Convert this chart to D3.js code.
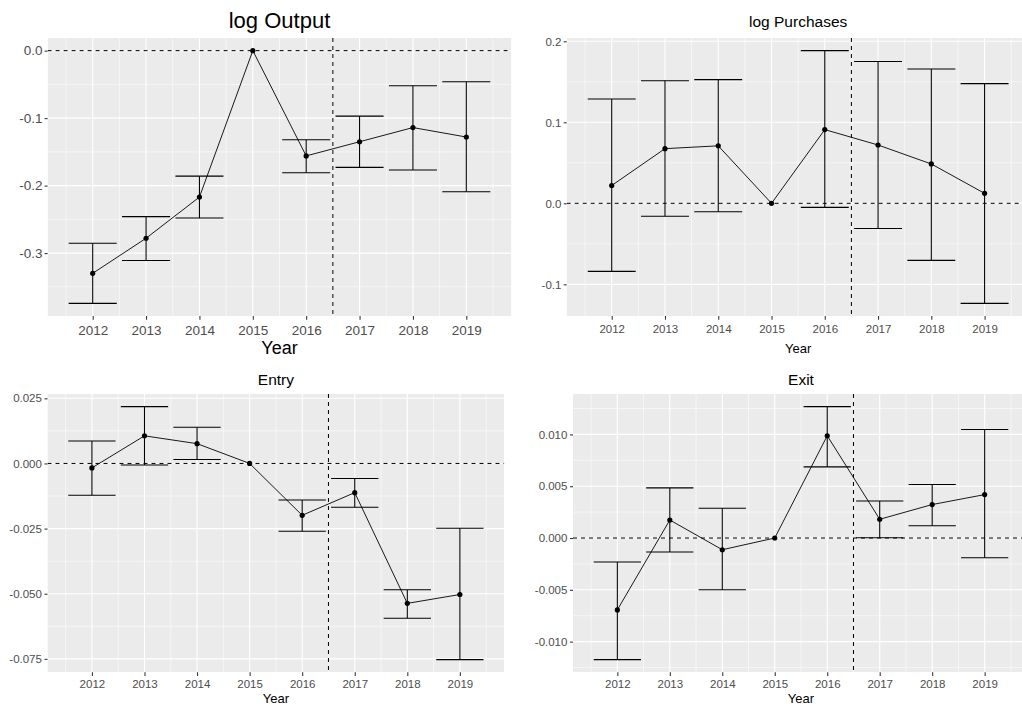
<!DOCTYPE html>
<html>
<head>
<meta charset="utf-8">
<script src="https://cdn.jsdelivr.net/npm/d3@7"></script>
<style>
  body { margin: 0; background: #fff; }
  svg { display: block; font-family: "Liberation Sans", Arial, sans-serif; }
</style>
</head>
<body>
<div id="chart"></div>
<script>
// years on the x axis, cutoff for the dashed vertical line
const years = [2012, 2013, 2014, 2015, 2016, 2017, 2018, 2019];
const cutoff = 2016.5;

// log Output (2015 is the reference year: no interval)
const outputEst = [-0.330, -0.278, -0.217, 0, -0.156, -0.135, -0.114, -0.128];
const outputLo  = [-0.3745, -0.311, -0.248, null, -0.181, -0.173, -0.177, -0.209];
const outputHi  = [-0.2855, -0.246, -0.186, null, -0.132, -0.097, -0.052, -0.046];
const outputTicks = [0, -0.1, -0.2, -0.3];
const outputLabels = ["0.0", "-0.1", "-0.2", "-0.3"];

// log Purchases
const purchEst = [0.022, 0.0675, 0.071, 0, 0.091, 0.072, 0.0486, 0.0123];
const purchLo  = [-0.084, -0.016, -0.0103, null, -0.005, -0.031, -0.0704, -0.1235];
const purchHi  = [0.1288, 0.1514, 0.1527, null, 0.1885, 0.175, 0.1658, 0.1478];
const purchTicks = [0.2, 0.1, 0, -0.1];
const purchLabels = ["0.2", "0.1", "0.0", "-0.1"];

// Entry
const entryEst = [-0.0017, 0.0106, 0.0076, 0, -0.0199, -0.0112, -0.0537, -0.0503];
const entryLo  = [-0.0122, -0.0006, 0.0015, null, -0.026, -0.0168, -0.0594, -0.0753];
const entryHi  = [0.0086, 0.0218, 0.0139, null, -0.014, -0.0058, -0.0485, -0.0249];
const entryTicks = [0.025, 0, -0.025, -0.05, -0.075];
const entryLabels = ["0.025", "0.000", "-0.025", "-0.050", "-0.075"];

// Exit
const exitEst = [-0.00694, 0.00174, -0.00113, 0, 0.00987, 0.00181, 0.00323, 0.00419];
const exitLo  = [-0.01174, -0.00135, -0.005, null, 0.00687, 0.00003, 0.00119, -0.0019];
const exitHi  = [-0.00232, 0.00484, 0.00287, null, 0.01268, 0.00358, 0.00516, 0.01048];
const exitTicks = [0.01, 0.005, 0, -0.005, -0.01];
const exitLabels = ["0.010", "0.005", "0.000", "-0.005", "-0.010"];

const W = 1022, H = 711;

const svg = d3.select("#chart").append("svg")
    .attr("width", W)
    .attr("height", H);

// panel boxes + text sizes (layout only)
const panels = [
  {title: "log Output", est: outputEst, lo: outputLo, hi: outputHi, ticks: outputTicks, labels: outputLabels,
   box: {l: 47.6, r: 511.4, t: 38, b: 316}, titleSize: 22, titleY: 27.5, tickSize: 13.5, xlabSize: 18, xlabY: 353.5, tickPad: 5.3, ylabGap: 5},
  {title: "log Purchases", est: purchEst, lo: purchLo, hi: purchHi, ticks: purchTicks, labels: purchLabels,
   box: {l: 566.7, r: 1029.6, t: 38, b: 316}, titleSize: 15.5, titleY: 27.3, tickSize: 11.5, xlabSize: 13, xlabY: 353.3, tickPad: 5.3, ylabGap: 5.3},
  {title: "Entry", est: entryEst, lo: entryLo, hi: entryHi, ticks: entryTicks, labels: entryLabels,
   box: {l: 47.5, r: 504.3, t: 394, b: 672.3}, titleSize: 15.5, titleY: 385, tickSize: 11.5, xlabSize: 13, xlabY: 703.3, tickPad: 4, ylabGap: 5.6},
  {title: "Exit", est: exitEst, lo: exitLo, hi: exitHi, ticks: exitTicks, labels: exitLabels,
   box: {l: 573, r: 1029, t: 394, b: 672.3}, titleSize: 15.5, titleY: 385, tickSize: 11.5, xlabSize: 13, xlabY: 703.3, tickPad: 4, ylabGap: 5.6}
];

function expand(lo, hi) {
  const pad = (hi - lo) * 0.05;
  return [lo - pad, hi + pad];
}

panels.forEach((p, pi) => {
  const rows = years.map((y, i) => ({year: y, est: p.est[i], lo: p.lo[i], hi: p.hi[i]}));
  const b = p.box;

  // x: continuous, errorbar width 0.9 then 5% expansion
  const x = d3.scaleLinear()
      .domain(expand(d3.min(years) - 0.45, d3.max(years) + 0.45))
      .range([b.l, b.r]);
  const allY = p.est.concat(p.lo, p.hi);
  const y = d3.scaleLinear()
      .domain(expand(d3.min(allY), d3.max(allY)))
      .range([b.b, b.t]);

  const clipId = "clip" + pi;
  svg.append("clipPath").attr("id", clipId)
    .append("rect")
      .attr("x", b.l).attr("y", b.t)
      .attr("width", b.r - b.l).attr("height", b.b - b.t);

  const g = svg.append("g").attr("clip-path", `url(#${clipId})`);

  g.append("rect")
      .attr("x", b.l).attr("y", b.t)
      .attr("width", b.r - b.l).attr("height", b.b - b.t)
      .attr("fill", "#EBEBEB");

  // minor grid
  const step = p.ticks[0] - p.ticks[1];
  const yMinor = d3.range(p.ticks.length + 1).map(i => p.ticks[0] + step / 2 - i * step);
  const xMinor = d3.range(years.length + 1).map(i => years[0] - 0.5 + i);

  g.selectAll(".ymin").data(yMinor).join("line")
      .attr("x1", b.l).attr("x2", b.r)
      .attr("y1", d => y(d)).attr("y2", d => y(d))
      .attr("stroke", "#fff").attr("stroke-width", 0.55);
  g.selectAll(".xmin").data(xMinor).join("line")
      .attr("y1", b.t).attr("y2", b.b)
      .attr("x1", d => x(d)).attr("x2", d => x(d))
      .attr("stroke", "#fff").attr("stroke-width", 0.55);

  // major grid
  g.selectAll(".ymaj").data(p.ticks).join("line")
      .attr("x1", b.l).attr("x2", b.r)
      .attr("y1", d => y(d)).attr("y2", d => y(d))
      .attr("stroke", "#fff").attr("stroke-width", 1.1);
  g.selectAll(".xmaj").data(years).join("line")
      .attr("y1", b.t).attr("y2", b.b)
      .attr("x1", d => x(d)).attr("x2", d => x(d))
      .attr("stroke", "#fff").attr("stroke-width", 1.1);

  // dashed reference lines
  g.append("line")
      .attr("x1", b.l).attr("x2", b.r)
      .attr("y1", y(0)).attr("y2", y(0))
      .attr("stroke", "#000").attr("stroke-width", 1)
      .attr("stroke-dasharray", "4,4");
  g.append("line")
      .attr("x1", x(cutoff)).attr("x2", x(cutoff))
      .attr("y1", b.t).attr("y2", b.b)
      .attr("stroke", "#000").attr("stroke-width", 1)
      .attr("stroke-dasharray", "4,4");

  // error bars (skip the reference year with no interval)
  const eb = g.selectAll(".eb").data(rows.filter(d => d.lo != null)).join("g");
  eb.append("line")
      .attr("x1", d => x(d.year)).attr("x2", d => x(d.year))
      .attr("y1", d => y(d.lo)).attr("y2", d => y(d.hi))
      .attr("stroke", "#000").attr("stroke-width", 1.07);
  eb.append("line")
      .attr("x1", d => x(d.year - 0.45)).attr("x2", d => x(d.year + 0.45))
      .attr("y1", d => y(d.lo)).attr("y2", d => y(d.lo))
      .attr("stroke", "#000").attr("stroke-width", 1.07);
  eb.append("line")
      .attr("x1", d => x(d.year - 0.45)).attr("x2", d => x(d.year + 0.45))
      .attr("y1", d => y(d.hi)).attr("y2", d => y(d.hi))
      .attr("stroke", "#000").attr("stroke-width", 1.07);

  // line + points
  g.append("path")
      .datum(rows)
      .attr("fill", "none")
      .attr("stroke", "#000")
      .attr("stroke-width", 0.9)
      .attr("d", d3.line().x(d => x(d.year)).y(d => y(d.est)));

  g.selectAll(".pt").data(rows).join("circle")
      .attr("cx", d => x(d.year)).attr("cy", d => y(d.est))
      .attr("r", 2.6).attr("fill", "#000");

  // axes
  const xAxis = svg.append("g")
      .attr("transform", `translate(0,${b.b})`)
      .call(d3.axisBottom(x).tickValues(years).tickFormat(d3.format("d"))
            .tickSize(3.7).tickPadding(p.tickPad));
  const yAxis = svg.append("g")
      .attr("transform", `translate(${b.l},0)`)
      .call(d3.axisLeft(y).tickValues(p.ticks).tickFormat((d, i) => p.labels[i])
            .tickSize(3).tickPadding(p.ylabGap - 3));

  [xAxis, yAxis].forEach(a => {
    a.select(".domain").remove();
    a.selectAll(".tick line").attr("stroke", "#333").attr("stroke-width", 1.07);
    a.selectAll(".tick text")
        .attr("fill", "#4D4D4D")
        .style("font-size", p.tickSize + "px")
        .style("font-family", '"Liberation Sans", Arial, sans-serif');
  });

  // titles
  svg.append("text")
      .attr("x", (b.l + b.r) / 2).attr("y", p.titleY)
      .attr("text-anchor", "middle")
      .style("font-size", p.titleSize + "px")
      .attr("fill", "#000")
      .text(p.title);
  svg.append("text")
      .attr("x", (b.l + b.r) / 2).attr("y", p.xlabY)
      .attr("text-anchor", "middle")
      .style("font-size", p.xlabSize + "px")
      .attr("fill", "#000")
      .text("Year");
});
</script>
</body>
</html>
